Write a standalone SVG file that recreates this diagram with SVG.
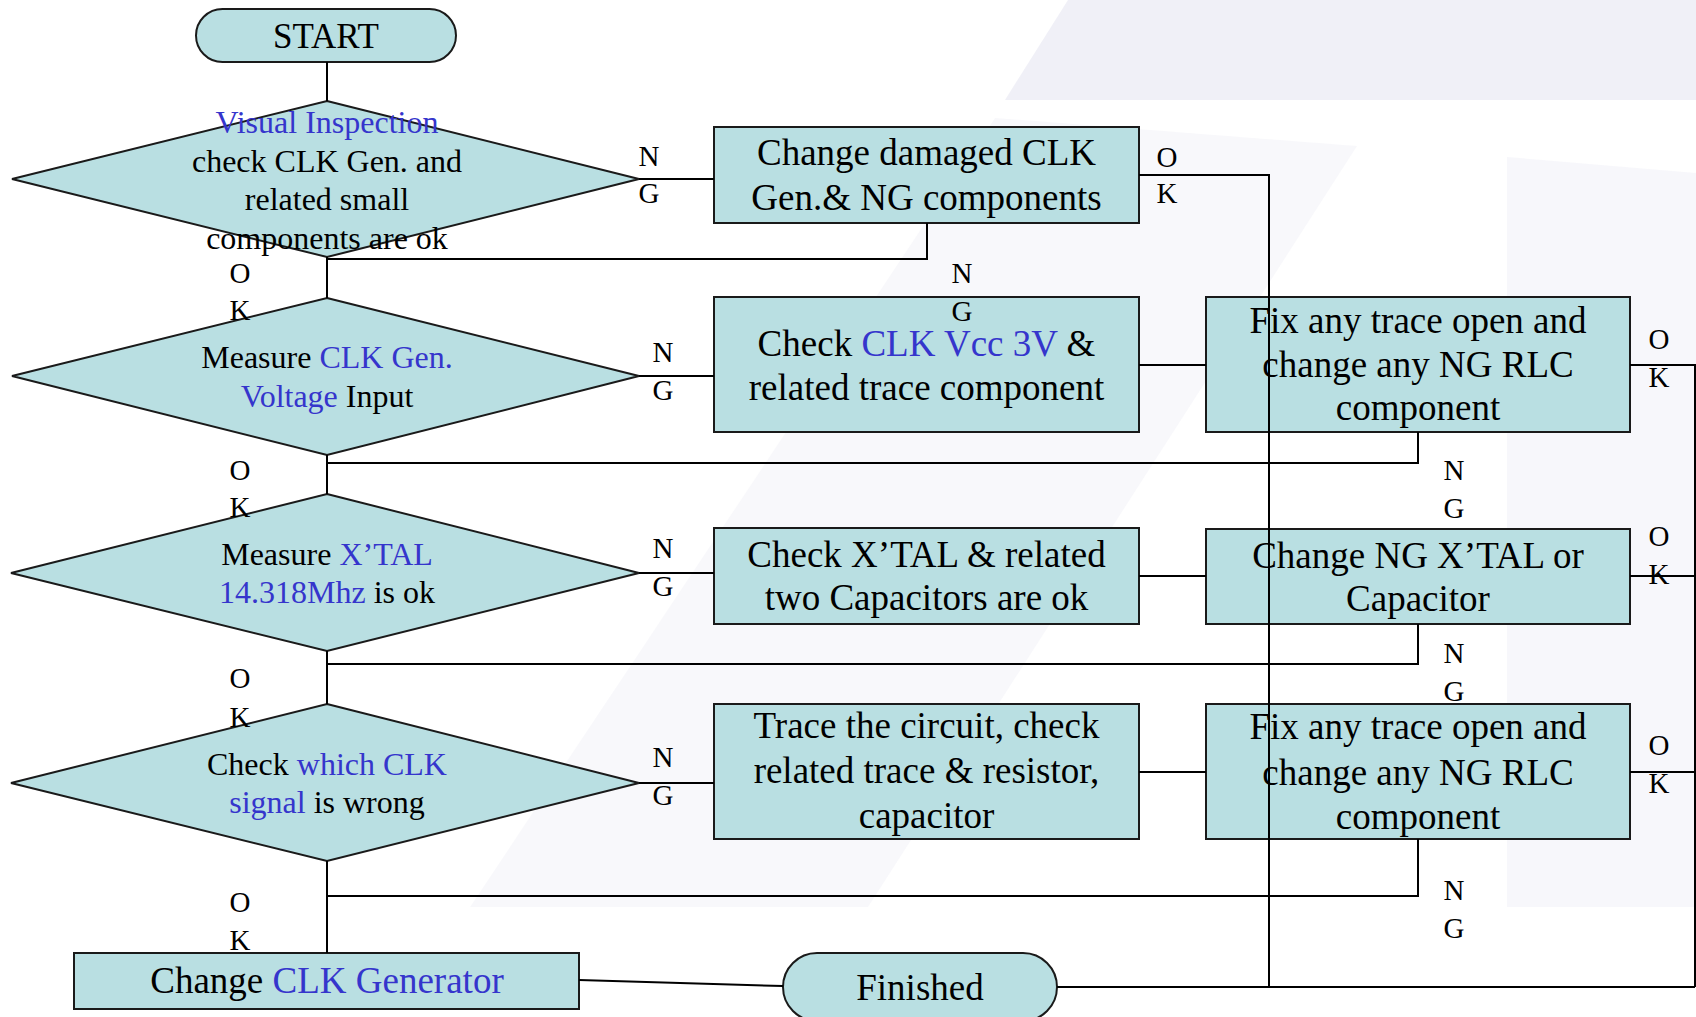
<svg xmlns="http://www.w3.org/2000/svg" width="1696" height="1017" viewBox="0 0 1696 1017">
<style>
  .bg { fill: #e9e9f3; }
  .node { fill: #b9dfe2; stroke: #1a1a1a; stroke-width: 2; }
  .t { font-family: "Liberation Serif", "Times New Roman", serif; fill: #000; text-anchor: middle; }
  .box { font-size: 37px; }
  .dia { font-size: 32px; }
  .lbl { font-size: 29px; }
  .blue { fill: #3535cc; }
  .conn { fill: none; stroke: #000; stroke-width: 2; }
</style>
<rect x="0" y="0" width="1696" height="1017" fill="#ffffff"/>
<g id="background">
  <polygon class="bg" points="1068,0 1696,0 1696,100 1005,100" opacity="0.7"/>
  <polygon class="bg" points="995,118 1357,146 868,907 470,907" opacity="0.3"/>
  <polygon class="bg" points="1507,157 1696,173 1696,907 1507,907" opacity="0.35"/>
</g>

<g id="start">
  <rect class="node" x="196" y="9" width="260" height="53" rx="26.5"/>
  <text class="t" x="326" y="48" font-size="35">START</text>
</g>

<g id="d1">
  <polygon class="node" points="327,101 639,179 327,257 12,179"/>
  <text class="t dia" x="327" y="133"><tspan class="blue">Visual Inspection</tspan></text>
  <text class="t dia" x="327" y="172">check CLK Gen. and</text>
  <text class="t dia" x="327" y="210">related small</text>
  <text class="t dia" x="327" y="249">components are ok</text>
</g>

<g id="d2">
  <polygon class="node" points="327,298 639,376 327,455 12,376"/>
  <text class="t dia" x="327" y="368">Measure <tspan class="blue">CLK Gen.</tspan></text>
  <text class="t dia" x="327" y="407"><tspan class="blue">Voltage</tspan> Input</text>
</g>

<g id="d3">
  <polygon class="node" points="327,494 639,573 327,651 11,573"/>
  <text class="t dia" x="327" y="565">Measure <tspan class="blue">X’TAL</tspan></text>
  <text class="t dia" x="327" y="603"><tspan class="blue">14.318Mhz</tspan> is ok</text>
</g>

<g id="d4">
  <polygon class="node" points="327,704 639,783 327,861 11,783"/>
  <text class="t dia" x="327" y="775">Check <tspan class="blue">which CLK</tspan></text>
  <text class="t dia" x="327" y="813"><tspan class="blue">signal</tspan> is wrong</text>
</g>

<g id="box1">
  <rect class="node" x="714" y="127" width="425" height="96"/>
  <text class="t box" x="926.5" y="165">Change damaged CLK</text>
  <text class="t box" x="926.5" y="210">Gen.&amp; NG components</text>
</g>

<g id="box2">
  <rect class="node" x="714" y="297" width="425" height="135"/>
  <text class="t box" x="926.5" y="356">Check <tspan class="blue">CLK Vcc 3V</tspan> &amp;</text>
  <text class="t box" x="926.5" y="400">related trace component</text>
</g>

<g id="box3">
  <rect class="node" x="1206" y="297" width="424" height="135"/>
  <text class="t box" x="1418" y="333">Fix any trace open and</text>
  <text class="t box" x="1418" y="377">change any NG RLC</text>
  <text class="t box" x="1418" y="420">component</text>
</g>

<g id="box5">
  <rect class="node" x="714" y="528" width="425" height="96"/>
  <text class="t box" x="926.5" y="567">Check X’TAL &amp; related</text>
  <text class="t box" x="926.5" y="610">two Capacitors are ok</text>
</g>

<g id="box4">
  <rect class="node" x="1206" y="529" width="424" height="95"/>
  <text class="t box" x="1418" y="568">Change NG X’TAL or</text>
  <text class="t box" x="1418" y="611">Capacitor</text>
</g>

<g id="box6">
  <rect class="node" x="714" y="704" width="425" height="135"/>
  <text class="t box" x="926.5" y="738">Trace the circuit, check</text>
  <text class="t box" x="926.5" y="783">related trace &amp; resistor,</text>
  <text class="t box" x="926.5" y="828">capacitor</text>
</g>

<g id="box7">
  <rect class="node" x="1206" y="704" width="424" height="135"/>
  <text class="t box" x="1418" y="739">Fix any trace open and</text>
  <text class="t box" x="1418" y="785">change any NG RLC</text>
  <text class="t box" x="1418" y="829">component</text>
</g>

<g id="clkgen">
  <rect class="node" x="74" y="953" width="505" height="56"/>
  <text class="t box" x="327" y="993">Change <tspan class="blue">CLK Generator</tspan></text>
</g>

<g id="finished">
  <rect class="node" x="783" y="953" width="274" height="68" rx="34"/>
  <text class="t box" x="920" y="1000">Finished</text>
</g>

<g id="connectors">
  <path class="conn" d="M327,62 V101"/>
  <path class="conn" d="M639,179 H714"/>
  <path class="conn" d="M1139,175 H1269 V987"/>
  <path class="conn" d="M927,223 V259 H327"/>
  <path class="conn" d="M327,257 V298"/>
  <path class="conn" d="M639,376 H714"/>
  <path class="conn" d="M1139,365 H1206"/>
  <path class="conn" d="M1630,365 H1695 V987"/>
  <path class="conn" d="M1418,432 V463 H327"/>
  <path class="conn" d="M327,455 V494"/>
  <path class="conn" d="M639,573 H714"/>
  <path class="conn" d="M1139,576 H1206"/>
  <path class="conn" d="M1630,576 H1695"/>
  <path class="conn" d="M1418,624 V664 H327"/>
  <path class="conn" d="M327,651 V704"/>
  <path class="conn" d="M639,783 H714"/>
  <path class="conn" d="M1139,772 H1206"/>
  <path class="conn" d="M1630,772 H1695"/>
  <path class="conn" d="M1418,839 V896 H327"/>
  <path class="conn" d="M327,861 V953"/>
  <path class="conn" d="M579,980 L783,986"/>
  <path class="conn" d="M1057,987 H1695" stroke-width="2.5"/>
</g>

<g id="labels">
  <text class="t lbl" x="649" y="166">N</text><text class="t lbl" x="649" y="203">G</text>
  <text class="t lbl" x="663" y="362">N</text><text class="t lbl" x="663" y="400">G</text>
  <text class="t lbl" x="663" y="558">N</text><text class="t lbl" x="663" y="596">G</text>
  <text class="t lbl" x="663" y="767">N</text><text class="t lbl" x="663" y="805">G</text>
  <text class="t lbl" x="240" y="283">O</text><text class="t lbl" x="240" y="320">K</text>
  <text class="t lbl" x="240" y="480">O</text><text class="t lbl" x="240" y="517">K</text>
  <text class="t lbl" x="240" y="688">O</text><text class="t lbl" x="240" y="727">K</text>
  <text class="t lbl" x="240" y="912">O</text><text class="t lbl" x="240" y="950">K</text>
  <text class="t lbl" x="1167" y="167">O</text><text class="t lbl" x="1167" y="203">K</text>
  <text class="t lbl" x="962" y="283">N</text><text class="t lbl" x="962" y="321">G</text>
  <text class="t lbl" x="1659" y="349">O</text><text class="t lbl" x="1659" y="387">K</text>
  <text class="t lbl" x="1454" y="480">N</text><text class="t lbl" x="1454" y="518">G</text>
  <text class="t lbl" x="1659" y="546">O</text><text class="t lbl" x="1659" y="584">K</text>
  <text class="t lbl" x="1454" y="663">N</text><text class="t lbl" x="1454" y="701">G</text>
  <text class="t lbl" x="1659" y="755">O</text><text class="t lbl" x="1659" y="793">K</text>
  <text class="t lbl" x="1454" y="900">N</text><text class="t lbl" x="1454" y="938">G</text>
</g>
</svg>
